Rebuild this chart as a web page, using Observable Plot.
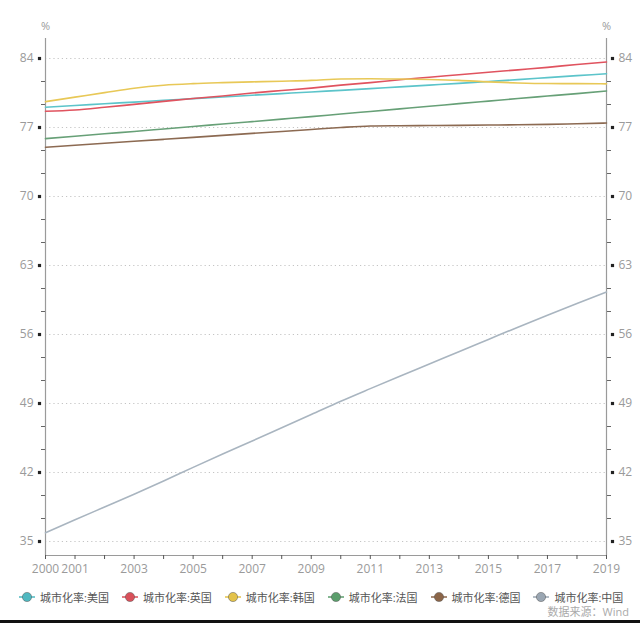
<!DOCTYPE html>
<html><head><meta charset="utf-8">
<script src="https://cdn.jsdelivr.net/npm/d3@7"></script>
<script src="https://cdn.jsdelivr.net/npm/@observablehq/plot@0.6"></script>
<style>
body{margin:0;background:#fff;font-family:"Open Sans","Noto Sans CJK SC",sans-serif;}
#wrap{position:relative;width:640px;height:623px;overflow:hidden;}
#legend{position:absolute;left:19px;top:589px;display:flex;font-size:11px;color:#555;white-space:nowrap;}
#legend .item{display:flex;align-items:center;margin-right:13px;}
#legend svg{margin-right:5px;}
#source{position:absolute;right:11px;top:603px;font-size:11px;color:#aaa;}
#bar{position:absolute;left:0;top:620px;width:640px;height:3px;background:#111;}
</style></head>
<body><div id="wrap"><div id="chart"></div><div id="legend"></div><div id="source">数据来源：Wind</div><div id="bar"></div></div>
<script>
const years = [2000,2001,2002,2003,2004,2005,2006,2007,2008,2009,2010,2011,2012,2013,2014,2015,2016,2017,2018,2019];
const xLabelYears = [2000,2001,2003,2005,2007,2009,2011,2013,2015,2017,2019];
const seriesNames = ["城市化率:美国","城市化率:英国","城市化率:韩国","城市化率:法国","城市化率:德国","城市化率:中国"];
const seriesColors = ["#5cc4ca","#e0535f","#e8c857","#67a077","#8c6a52","#a9b5c0"];
const markerColors = ["#4fb8c0","#d9505a","#e3c24a","#5b9e6c","#8b6548","#9aa6b2"];
const usa = [79.06,79.23,79.41,79.58,79.76,79.93,80.10,80.27,80.44,80.61,80.77,80.94,81.12,81.30,81.48,81.67,81.86,82.06,82.26,82.46];
const uk = [78.65,78.78,79.05,79.35,79.65,79.95,80.20,80.50,80.75,81.00,81.30,81.55,81.85,82.10,82.35,82.60,82.85,83.10,83.40,83.65];
const korea = [79.62,80.08,80.54,80.99,81.29,81.45,81.55,81.63,81.70,81.78,81.92,81.95,81.92,81.87,81.78,81.63,81.52,81.46,81.45,81.43];
const france = [75.87,76.11,76.36,76.60,76.85,77.10,77.35,77.60,77.85,78.10,78.37,78.63,78.89,79.15,79.42,79.68,79.94,80.19,80.44,80.71];
const germany = [75.00,75.20,75.40,75.60,75.80,76.00,76.20,76.40,76.60,76.80,77.00,77.15,77.18,77.20,77.22,77.25,77.28,77.32,77.38,77.45];
const china = [35.88,37.20,38.50,39.80,41.14,42.52,43.87,45.20,46.54,47.88,49.23,50.51,51.77,53.01,54.26,55.50,56.74,57.96,59.15,60.31];
const majorTicks = [35,42,49,56,63,70,77,84];
const yDomain = [33.58, 86.03];

const allValues = [usa, uk, korea, france, germany, china];
const rows = [];
seriesNames.forEach((s, i) => years.forEach((y, j) => rows.push({series: s, year: y, value: allValues[i][j]})));
const minorTicks = d3.range(0, 22).map(k => 35 + k * 7 / 3).filter(v => v <= 84.01 && Math.abs(Math.round(v / 7) * 7 - v) > 0.01);

const axisColor = "#9a9a9a";
const labelColor = "#9a9a9a";
const chart = Plot.plot({
  width: 640, height: 585,
  marginLeft: 45, marginRight: 34, marginTop: 38, marginBottom: 30,
  style: {fontFamily: '"Open Sans","Noto Sans CJK SC",sans-serif', fontSize: "12px", color: labelColor, background: "#fff"},
  x: {domain: [2000, 2019], axis: null},
  y: {domain: yDomain, axis: null},
  color: {domain: seriesNames, range: seriesColors},
  marks: [
    Plot.ruleY(majorTicks, {stroke: "#c4c4c4", strokeDasharray: "1.2,3", strokeWidth: 1}),
    Plot.ruleX([2000, 2019], {stroke: axisColor, strokeWidth: 1.2}),
    Plot.ruleY([yDomain[0]], {stroke: axisColor, strokeWidth: 1.2}),
    Plot.axisY(minorTicks, {anchor: "left", label: null, tickSize: 4, tickFormat: () => "", stroke: "#666"}),
    Plot.axisY(minorTicks, {anchor: "right", label: null, tickSize: 4, tickFormat: () => "", stroke: "#666"}),
    Plot.axisY(majorTicks, {anchor: "left", label: null, tickSize: 0, tickPadding: 12, fill: labelColor, fontSize: 12}),
    Plot.axisY(majorTicks, {anchor: "right", label: null, tickSize: 0, tickPadding: 12, fill: labelColor, fontSize: 12}),
    Plot.dot(majorTicks, {x: () => 2000, y: d => d, symbol: "square", r: 1.8, fill: "#222", dx: -6}),
    Plot.dot(majorTicks, {x: () => 2019, y: d => d, symbol: "square", r: 1.8, fill: "#222", dx: 6}),
    Plot.axisX(years, {anchor: "bottom", label: null, tickSize: 4, tickPadding: 5, stroke: "#555", fill: labelColor, fontSize: 12,
      tickFormat: d => xLabelYears.includes(d) ? String(d) : ""}),
    Plot.line(rows, {x: "year", y: "value", z: "series", stroke: "series", strokeWidth: 1.6, curve: "monotone-x"}),
    Plot.text(["%"], {frameAnchor: "top-left", dy: -16, fill: labelColor, fontSize: 11, textAnchor: "middle"}),
    Plot.text(["%"], {frameAnchor: "top-right", dy: -16, fill: labelColor, fontSize: 11, textAnchor: "middle"})
  ]
});
document.getElementById("chart").appendChild(chart);

const legend = document.getElementById("legend");
seriesNames.forEach((s, i) => {
  const item = document.createElement("div");
  item.className = "item";
  item.innerHTML = `<svg width="16" height="12"><line x1="0" x2="16" y1="6" y2="6" stroke="${markerColors[i]}" stroke-width="1.5"/><circle cx="8" cy="6" r="4.6" fill="${markerColors[i]}" stroke="#555" stroke-opacity="0.5" stroke-width="1"/></svg><span>${s}</span>`;
  legend.appendChild(item);
});
</script></body></html>
